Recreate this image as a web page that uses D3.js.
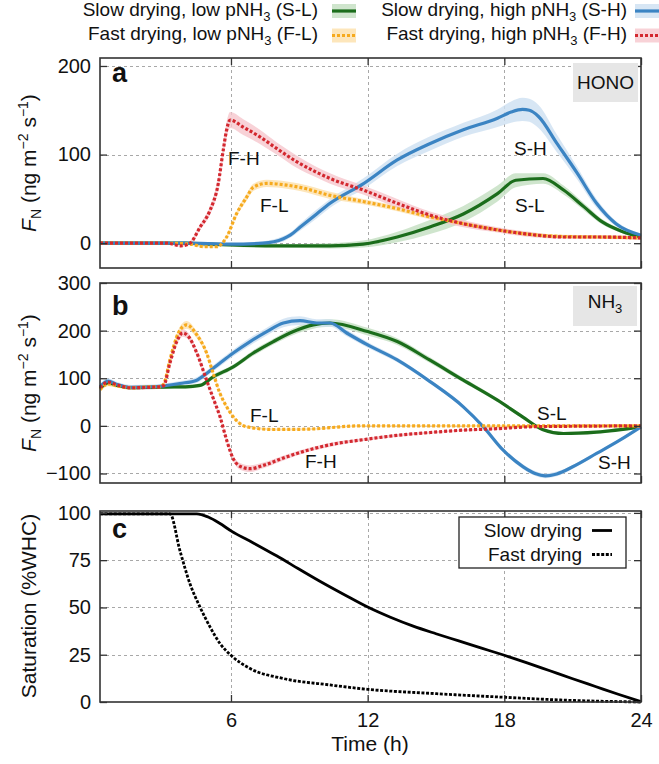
<!DOCTYPE html>
<html><head><meta charset="utf-8">
<script src="https://cdn.jsdelivr.net/npm/d3@7"></script>
<style>
body{margin:0;background:#fff}
svg{display:block;font-family:"Liberation Sans",Arial,Helvetica,sans-serif}
</style>
</head><body>
<svg id="chart" width="659" height="764"></svg>
<script>
// ---------------- DATA ----------------
const xTicks = [6, 12, 18, 24];
const yTicksA = [0, 100, 200];
const yTicksB = [-100, 0, 100, 200, 300];
const yTicksC = [0, 25, 50, 75, 100];

// Panel a: HONO flux
const honoSL_t = [0.25, 2, 4, 5, 6, 8, 10.35, 11.8, 13.3, 14.7, 16.2, 17.7, 18.5, 19.7, 20.6, 21.5, 22.3, 23.2, 24];
const honoSL   = [0, 0, 0, -1, -2, -3, -3, -1, 7, 18, 33, 56, 71, 73, 60, 41, 24, 13, 7];
const honoSL_e = [1, 1, 1, 1, 2, 2, 3, 4, 6, 8, 9, 9, 8, 6, 5, 4, 3, 2, 2];

const honoSH_t = [0.25, 2, 4, 5, 6, 7.4, 8.3, 8.6, 9.03, 9.76, 10.35, 11.8, 13.3, 14.7, 16.2, 17.7, 18.3, 18.8, 19.1, 19.5, 20.3, 21.2, 22.05, 22.9, 24];
const honoSH   = [0, 0, 0, -0.5, -1, 0, 5, 9, 18, 33, 45, 67, 94, 112, 128, 141, 148, 151, 150, 143, 113, 79, 45, 22, 9];
const honoSH_e = [1, 1, 1, 1, 1, 2, 3, 3, 4, 5, 5, 6, 7, 8, 8, 10, 12, 13, 13, 13, 10, 7, 5, 3, 2];

const honoFL_t = [0.25, 3, 4.2, 4.8, 5.37, 5.81, 6.25, 6.69, 6.98, 7.57, 8.45, 9.03, 10.35, 11.8, 13.3, 14.7, 16.2, 17.7, 19.1, 20.6, 22.1, 24];
const honoFL   = [0, 0, -1, -4, -4, 7, 33.5, 52, 63, 67.5, 65.5, 63, 54, 47, 39, 30, 22, 15, 10, 7.5, 7, 6];
const honoFL_e = [1, 1, 1, 1, 1, 2, 3, 4, 4, 4, 4, 4, 4, 3, 3, 3, 3, 2, 2, 2, 2, 2];

const honoFH_t = [0.25, 2, 3.2, 3.8, 4.2, 4.64, 5.08, 5.44, 5.66, 5.81, 5.96, 6.54, 7.27, 8.0, 8.88, 9.76, 10.35, 11.8, 13.3, 14.7, 16.2, 17.7, 19.1, 20.6, 22.1, 24];
const honoFH   = [0, 0, 0, -3, 0, 18, 37, 67, 105, 128, 139, 131, 120, 107, 92, 80, 73, 60, 45, 32, 22, 15, 10, 7, 7, 6];
const honoFH_e = [1, 1, 1, 1, 2, 3, 5, 7, 8, 9, 9, 9, 8, 7, 7, 6, 6, 5, 5, 4, 4, 3, 3, 2, 2, 2];

// Panel b: NH3 flux
const nh3SL_t = [0.25, 0.6, 1.0, 1.6, 2.5, 3.5, 4.0, 4.64, 5.22, 6.1, 6.98, 7.86, 8.74, 9.61, 10.35, 12.0, 13.3, 14.7, 16.2, 17.7, 18.8, 19.7, 20.6, 22.05, 24];
const nh3SL   = [78, 90, 85, 80, 81, 82, 82, 85, 103, 124, 153, 177, 198, 212, 216, 198, 177, 139, 96, 54, 19, -8, -16, -13, -2];
const nh3SL_e = [5, 5, 4, 4, 4, 4, 4, 4, 5, 5, 6, 6, 7, 8, 8, 8, 7, 6, 5, 4, 4, 3, 3, 3, 2];

const nh3SH_t = [0.25, 0.6, 1.0, 1.6, 2.5, 2.88, 3.76, 4.5, 4.93, 5.52, 6.1, 6.84, 7.57, 8.3, 9.03, 9.76, 10.35, 11.08, 12.0, 13.28, 14.74, 16.2, 17.08, 17.95, 18.83, 19.35, 19.8, 20.3, 21.0, 22.05, 23.07, 24];
const nh3SH   = [82, 94, 87, 81, 82, 83, 89, 96, 110, 132, 153, 177, 198, 216, 221, 216, 216, 195, 170, 139, 93, 40, -2, -51, -86, -100, -105, -101, -86, -58, -30, -2];
const nh3SH_e = [6, 6, 5, 5, 5, 5, 5, 6, 6, 7, 7, 8, 8, 9, 9, 8, 8, 7, 6, 5, 4, 4, 4, 4, 5, 5, 5, 5, 4, 3, 3, 2];

const nh3FL_t = [0.25, 0.6, 1.0, 1.6, 2.5, 2.88, 3.05, 3.32, 3.69, 4.05, 4.5, 4.93, 5.22, 5.52, 5.81, 6.1, 6.69, 7.86, 9.32, 11.66, 18, 24];
const nh3FL   = [76, 88, 84, 80, 82, 82, 88, 139, 195, 212, 191, 153, 110, 68, 40, 19, -2, -7.6, -7, 0, 0, 0];
const nh3FL_e = [5, 5, 4, 4, 4, 4, 4, 5, 7, 8, 7, 6, 5, 4, 3, 3, 2, 2, 2, 2, 2, 2];

const nh3FH_t = [0.25, 0.6, 1.0, 1.6, 2.5, 2.88, 3.05, 3.32, 3.62, 3.88, 4.13, 4.5, 4.93, 5.22, 5.52, 5.81, 6.1, 6.4, 6.84, 7.42, 8.45, 9.61, 10.64, 11.66, 13.28, 14.74, 16.2, 17.66, 19.1, 20.6, 24];
const nh3FH   = [80, 92, 86, 80, 81, 82, 85, 132, 177, 195, 188, 153, 96, 58, 19, -30, -69, -85, -90, -83, -65, -48, -37, -30, -20, -14, -9, -6, -2, -1, 0];
const nh3FH_e = [5, 5, 4, 4, 4, 4, 4, 5, 7, 8, 7, 6, 6, 5, 5, 5, 6, 7, 7, 6, 5, 4, 4, 3, 3, 2, 2, 2, 2, 2, 2];

// Panel c: soil saturation
const satSlow_t = [0.25, 2, 4.5, 5.0, 5.5, 6, 7, 8, 9, 10, 11, 12, 13, 14, 15, 16, 17, 18, 19, 20, 21, 22, 23, 24];
const satSlow   = [99.5, 99.5, 99.5, 97.8, 94.5, 90.5, 84, 77.3, 70.2, 63.2, 56.6, 50.2, 44.8, 40.1, 36.1, 32.3, 28.5, 24.7, 20.7, 16.5, 12.3, 8.2, 4.1, 0.2];
const satFast_t = [0.25, 2, 3.32, 3.76, 4.2, 4.64, 5.08, 5.52, 6.0, 6.84, 8.3, 10.35, 12, 14.74, 18, 20.6, 24];
const satFast   = [99.5, 99.5, 99.5, 80, 62.5, 50.2, 39.7, 30.9, 24.7, 17.7, 12.4, 9, 6.7, 4.6, 2.5, 1.0, 0];

const seriesNames = ["Slow drying, low pNH", "Slow drying, high pNH", "Fast drying, low pNH", "Fast drying, high pNH"];
const seriesCodes = ["S-L", "S-H", "F-L", "F-H"];

// ---------------- STYLE ----------------
const col = {SL: "#1b6d1b", SH: "#3b84c3", FL: "#f6aa1e", FH: "#d3282f"};
const bandCol = {SL: "#c3dfc0", SH: "#cde0f1", FL: "#fde0aa", FH: "#f6c7cd"};
const dotted = "3,2";

const svg = d3.select("#chart");
const X0 = 100, X1 = 641;
const x = d3.scaleLinear().domain([0.25, 24]).range([X0, X1]);

const panels = [
  {key: "a", top: 58, bot: 268, dom: [-28, 209], ticks: yTicksA},
  {key: "b", top: 283, bot: 483, dom: [-120, 300], ticks: yTicksB},
  {key: "c", top: 511, bot: 702, dom: [0, 101], ticks: yTicksC}
];
panels.forEach(p => p.y = d3.scaleLinear().domain(p.dom).range([p.bot, p.top]));

const zip = (t, v, e) => t.map((d, i) => ({t: d, v: v[i], e: e ? e[i] : 0}));

function drawFrame(p) {
  const g = svg.append("g");
  const gg = g.append("g").attr("stroke", "#a8a8a8").attr("stroke-width", 1).attr("stroke-dasharray", "3,3");
  p.ticks.forEach(v => {
    const yy = Math.round(p.y(v)) + 0.5;
    if (yy > p.top + 1 && yy < p.bot - 1)
      gg.append("line").attr("x1", X0).attr("x2", X1).attr("y1", yy).attr("y2", yy);
  });
  xTicks.forEach(v => {
    const xx = Math.round(x(v)) + 0.5;
    if (xx < X1 - 1)
      gg.append("line").attr("x1", xx).attr("x2", xx).attr("y1", p.top).attr("y2", p.bot);
  });
  return g;
}

function drawAxes(p, showX) {
  const g = svg.append("g").attr("font-size", 20).attr("fill", "#111");
  const yl = g.append("g").attr("transform", `translate(${X0},0)`)
    .call(d3.axisLeft(p.y).tickValues(p.ticks).tickSizeInner(-7).tickSizeOuter(0).tickPadding(9)
      .tickFormat(d => d < 0 ? "\u2212" + Math.abs(d) : d));
  const yr = g.append("g").attr("transform", `translate(${X1},0)`)
    .call(d3.axisRight(p.y).tickValues(p.ticks).tickSizeInner(-7).tickSizeOuter(0).tickFormat(""));
  const xt = g.append("g").attr("transform", `translate(0,${p.top})`)
    .call(d3.axisTop(x).tickValues(xTicks).tickSizeInner(-7).tickSizeOuter(0).tickFormat(""));
  const xb = g.append("g").attr("transform", `translate(0,${p.bot})`)
    .call(d3.axisBottom(x).tickValues(xTicks).tickSizeInner(-7).tickSizeOuter(0).tickPadding(11)
      .tickFormat(showX ? d => d : ""));
  [yl, yr, xt, xb].forEach(a => {
    a.select(".domain").remove();
    a.selectAll("line").attr("stroke", "#333").attr("stroke-width", 1.3);
    a.selectAll("text").attr("font-size", 20).attr("fill", "#111");
    a.attr("font-family", null);
  });
  svg.append("rect").attr("x", X0).attr("y", p.top).attr("width", X1 - X0).attr("height", p.bot - p.top)
    .attr("fill", "none").attr("stroke", "#333").attr("stroke-width", 1.6);
}

function drawBand(p, data, band) {
  svg.append("path").datum(data)
    .attr("d", d3.area().curve(d3.curveMonotoneX).x(d => x(d.t)).y0(d => p.y(d.v - d.e)).y1(d => p.y(d.v + d.e)))
    .attr("fill", band).attr("opacity", 0.8);
}
function drawLine(p, data, color, dash, width) {
  svg.append("path").datum(data)
    .attr("d", d3.line().curve(d3.curveMonotoneX).x(d => x(d.t)).y(d => p.y(d.v)))
    .attr("fill", "none").attr("stroke", color).attr("stroke-width", width || 3.2)
    .attr("stroke-dasharray", dash || null).attr("stroke-linejoin", "round");
}

const pa = panels[0], pb = panels[1], pc = panels[2];

// ---------- Panel a ----------
drawFrame(pa);
const hA = [
  [zip(honoSL_t, honoSL, honoSL_e), "SL", null],
  [zip(honoSH_t, honoSH, honoSH_e), "SH", null],
  [zip(honoFL_t, honoFL, honoFL_e), "FL", dotted],
  [zip(honoFH_t, honoFH, honoFH_e), "FH", dotted]
];
hA.forEach(s => drawBand(pa, s[0], bandCol[s[1]]));
hA.forEach(s => drawLine(pa, s[0], col[s[1]], s[2]));
drawAxes(pa, false);

// ---------- Panel b ----------
drawFrame(pb);
const hB = [
  [zip(nh3SL_t, nh3SL, nh3SL_e), "SL", null],
  [zip(nh3SH_t, nh3SH, nh3SH_e), "SH", null],
  [zip(nh3FL_t, nh3FL, nh3FL_e), "FL", dotted],
  [zip(nh3FH_t, nh3FH, nh3FH_e), "FH", dotted]
];
hB.forEach(s => drawBand(pb, s[0], bandCol[s[1]]));
hB.forEach(s => drawLine(pb, s[0], col[s[1]], s[2]));
drawAxes(pb, false);

// ---------- Panel c ----------
drawFrame(pc);
drawLine(pc, zip(satSlow_t, satSlow), "#000", null, 2.8);
drawLine(pc, zip(satFast_t, satFast), "#000", "3,1.6", 2.8);
drawAxes(pc, true);

// ---------- Text ----------
const txt = (xx, yy, s, size, anchor) => svg.append("text").attr("x", xx).attr("y", yy)
  .attr("font-size", size).attr("text-anchor", anchor || "start").attr("fill", "#111").text(s);

txt(112, 82, "a", 27).attr("font-weight", "bold");
txt(112, 315, "b", 27).attr("font-weight", "bold");
txt(112, 538, "c", 27).attr("font-weight", "bold");

svg.append("rect").attr("x", 573).attr("y", 63).attr("width", 65).attr("height", 39).attr("fill", "#e6e6e6");
txt(605.5, 89, "HONO", 19, "middle");
svg.append("rect").attr("x", 573).attr("y", 286).attr("width", 64).attr("height", 40).attr("fill", "#e6e6e6");
const nh = txt(605, 308, "NH", 19, "middle");
nh.append("tspan").attr("font-size", 13).attr("dy", 5).text("3");

txt(228, 165, "F-H", 19); txt(260, 211.5, "F-L", 19);
txt(514, 155, "S-H", 19); txt(515, 211.5, "S-L", 19);
txt(250, 421.5, "F-L", 19); txt(305, 468, "F-H", 19);
txt(537, 420, "S-L", 19); txt(598, 469, "S-H", 19);

function fnTitle(cy) {
  const t = svg.append("text").attr("transform", `translate(36,${cy}) rotate(-90)`)
    .attr("text-anchor", "middle").attr("font-size", 21).attr("fill", "#111");
  t.append("tspan").attr("font-style", "italic").text("F");
  t.append("tspan").attr("font-size", 14).attr("dy", 5).text("N");
  t.append("tspan").attr("dy", -5).text(" (ng m");
  t.append("tspan").attr("font-size", 14).attr("dy", -8).text("\u22122");
  t.append("tspan").attr("dy", 8).text(" s");
  t.append("tspan").attr("font-size", 14).attr("dy", -8).text("\u22121");
  t.append("tspan").attr("dy", 8).text(")");
}
fnTitle(163);
fnTitle(383);
svg.append("text").attr("transform", `translate(36,606) rotate(-90)`).attr("text-anchor", "middle")
  .attr("font-size", 21).attr("fill", "#111").text("Saturation (%WHC)");
txt(370, 751, "Time (h)", 21, "middle");

const legendItems = [
  {i: 0, k: "SL", tx: 318, sx: 332, y: 16, ly: 11, dash: null},
  {i: 1, k: "SH", tx: 627, sx: 635, y: 16, ly: 11, dash: null},
  {i: 2, k: "FL", tx: 318, sx: 332, y: 39.5, ly: 35.5, dash: dotted},
  {i: 3, k: "FH", tx: 627, sx: 635, y: 39.5, ly: 35.5, dash: dotted}
];
legendItems.forEach(L => {
  const t = txt(L.tx, L.y, seriesNames[L.i], 19, "end");
  t.append("tspan").attr("font-size", 13).attr("dy", 5).text("3");
  t.append("tspan").attr("dy", -5).text(" (" + seriesCodes[L.i] + ")");
  svg.append("rect").attr("x", L.sx).attr("y", L.ly - 7).attr("width", 24).attr("height", 14)
    .attr("fill", bandCol[L.k]).attr("opacity", 0.8);
  svg.append("line").attr("x1", L.sx).attr("x2", L.sx + 24).attr("y1", L.ly).attr("y2", L.ly)
    .attr("stroke", col[L.k]).attr("stroke-width", 3.2).attr("stroke-dasharray", L.dash);
});

svg.append("rect").attr("x", 459).attr("y", 517).attr("width", 167).attr("height", 51)
  .attr("fill", "#fff").attr("stroke", "#222").attr("stroke-width", 1.3);
txt(582, 537, "Slow drying", 19, "end");
txt(582, 561, "Fast drying", 19, "end");
svg.append("line").attr("x1", 592).attr("x2", 612).attr("y1", 530.5).attr("y2", 530.5)
  .attr("stroke", "#000").attr("stroke-width", 2.8);
svg.append("line").attr("x1", 592).attr("x2", 612).attr("y1", 554.5).attr("y2", 554.5)
  .attr("stroke", "#000").attr("stroke-width", 2.8).attr("stroke-dasharray", "3,1.6");
</script>
</body></html>
